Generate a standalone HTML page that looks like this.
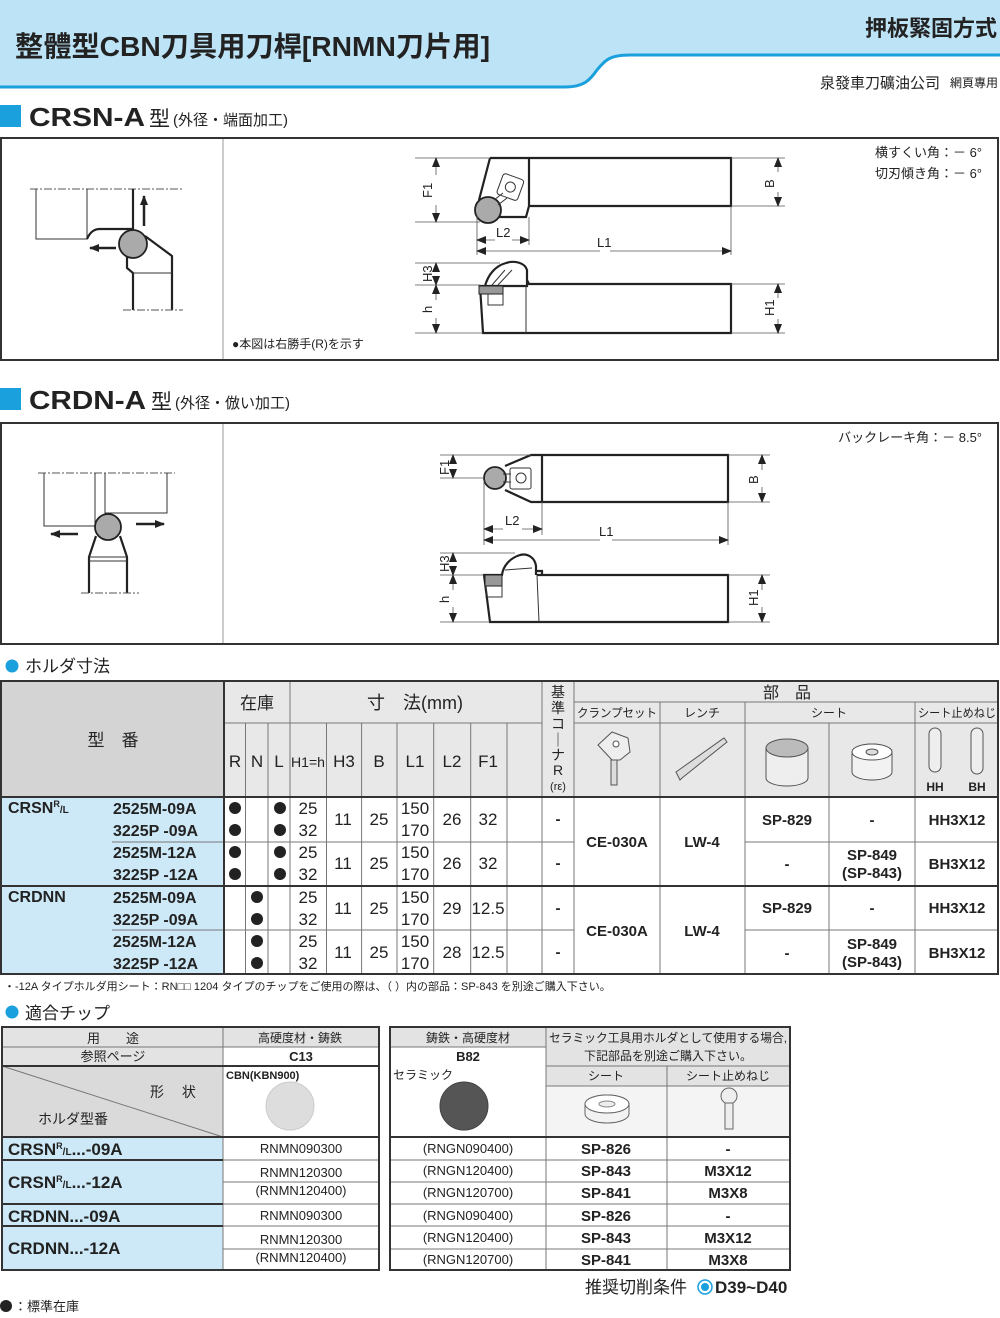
<!DOCTYPE html>
<html><head><meta charset="utf-8"><style>
html,body{margin:0;padding:0;background:#fff}
svg{display:block}
text{font-family:"Liberation Sans","Noto Sans CJK JP",sans-serif;fill:#222}
.c{text-anchor:middle}
.n{font-family:"Liberation Sans Narrow","Liberation Sans","Noto Sans CJK JP",sans-serif}
.b{font-weight:bold}
.ln{stroke:#333;stroke-width:1;fill:none}
.th{stroke:#222;stroke-width:2.2;fill:none}
.dim{stroke:#555;stroke-width:0.8;fill:none}
.g{fill:#aaa;stroke:#222;stroke-width:1.8}
</style></head><body>
<svg width="1000" height="1318" viewBox="0 0 1000 1318" xmlns="http://www.w3.org/2000/svg">
<defs>
<marker id="a" markerWidth="10" markerHeight="8" refX="9" refY="4" orient="auto" markerUnits="userSpaceOnUse"><path d="M0,0 L10,4 L0,8 z" fill="#222"/></marker>
</defs>
<!-- header -->
<path d="M0,0 H1000 V55 H630 C610,55 605,60 597,70 C590,80 584,87 565,87 H0 Z" fill="#bde3f6"/>
<path d="M0,87 H565 C584,87 590,80 597,70 C605,60 610,55 630,55 H1000" fill="none" stroke="#1aa0dc" stroke-width="3"/>
<text x="15" y="56" font-size="28" font-weight="bold" fill="#111" textLength="475" lengthAdjust="spacingAndGlyphs">整體型CBN刀具用刀桿[RNMN刀片用]</text>
<text x="997" y="36" font-size="22" font-weight="bold" text-anchor="end">押板緊固方式</text>
<text x="940" y="88" font-size="15" font-family="Noto Serif CJK SC,serif" text-anchor="end" fill="#999">泉發車刀礦油公司</text>
<text x="998" y="87" font-size="12" text-anchor="end" fill="#999">網頁專用</text>

<!-- section 1 -->
<rect x="0" y="105" width="21" height="22" fill="#1aa0dc"/>
<text x="29" y="126" font-size="26" font-weight="bold" textLength="116" lengthAdjust="spacingAndGlyphs">CRSN-A</text>
<text x="149" y="126" font-size="21">型</text>
<text x="173" y="125" font-size="15">(外径・端面加工)</text>
<rect x="1" y="138" width="997" height="222" fill="#fff" stroke="#333" stroke-width="2"/>
<line x1="223" y1="139" x2="223" y2="359" stroke="#999" stroke-width="1"/>
<text x="232" y="348" font-size="12">●本図は右勝手(R)を示す</text>
<text x="982" y="157" font-size="13" text-anchor="end">横すくい角：－ 6°</text>
<text x="982" y="178" font-size="13" text-anchor="end">切刃傾き角：－ 6°</text>

<!-- left drawing 1 -->
<line x1="30" y1="189" x2="183" y2="189" stroke="#555" stroke-dasharray="8,2,2,2"/>
<path class="ln" d="M36,189 V239 H87 V189"/>
<path class="th" d="M87,239 C90,232 94,229 100,229 H133 V189"/>
<path class="th" d="M145,236 L172,256 V310 M127,255 V268 L133,273 V310"/>
<line class="ln" x1="133" y1="273" x2="172" y2="273"/>
<line x1="123" y1="310" x2="183" y2="310" stroke="#555" stroke-dasharray="8,2,2,2"/>
<circle cx="133" cy="244" r="14" class="g"/>
<line x1="144" y1="226" x2="144" y2="196" stroke="#222" stroke-width="2.5" marker-end="url(#a)"/>
<line x1="116" y1="248" x2="90" y2="248" stroke="#222" stroke-width="2.5" marker-end="url(#a)"/>

<!-- right drawing 1 top view -->
<path class="th" d="M529,158 H731 V206 H529 M490,158 H529 V206 L526,217 H480 M490,158 L479,200"/>
<circle cx="488" cy="210" r="13" class="g"/>
<g transform="rotate(20 510 188)"><rect x="499" y="176" width="22" height="22" rx="3" class="ln" fill="#fff"/><circle cx="510" cy="187" r="5" class="ln"/></g>
<path class="ln" d="M494,200 L503,193 M498,205 L507,198"/>
<path class="dim" d="M415,158 H490 M415,222 H480 M731,158 H785 M731,206 H785 M477,215 V255 M529,217 V245 M731,206 V255"/>
<line x1="436" y1="175" x2="436" y2="158" class="dim" marker-end="url(#a)"/><line x1="436" y1="205" x2="436" y2="222" class="dim" marker-end="url(#a)"/>
<line x1="778" y1="172" x2="778" y2="158" class="dim" marker-end="url(#a)"/><line x1="778" y1="192" x2="778" y2="206" class="dim" marker-end="url(#a)"/>
<line x1="495" y1="240" x2="477" y2="240" class="dim" marker-end="url(#a)"/><line x1="512" y1="240" x2="529" y2="240" class="dim" marker-end="url(#a)"/>
<line x1="600" y1="251" x2="477" y2="251" class="dim" marker-end="url(#a)"/><line x1="610" y1="251" x2="731" y2="251" class="dim" marker-end="url(#a)"/>
<text x="0" y="0" font-size="13" transform="translate(432,198) rotate(-90)">F1</text>
<text x="0" y="0" font-size="13" transform="translate(774,188) rotate(-90)">B</text>
<text x="496" y="237" font-size="13">L2</text>
<text x="597" y="247" font-size="13">L1</text>
<!-- side view 1 -->
<path class="th" d="M529,284 H731 V333 H483 L480,286 H527 V280 L529,284 Z"/>
<path class="th" d="M485,286 C488,275 495,266 506,263 C515,260 525,263 527,270 V280"/>
<path class="ln" d="M492,285 L505,270 M498,285 L512,270 M526,286 V333 M488,293 V305 H503 V293"/>
<rect x="479" y="286" width="24" height="8" fill="#999" stroke="#222"/>
<path class="dim" d="M415,263 H500 M415,285 H480 M415,333 H483 M731,284 H785 M731,333 H785"/>
<line x1="436" y1="268" x2="436" y2="263" class="dim" marker-end="url(#a)"/><line x1="436" y1="280" x2="436" y2="285" class="dim" marker-end="url(#a)"/>
<line x1="436" y1="300" x2="436" y2="285" class="dim" marker-end="url(#a)"/><line x1="436" y1="318" x2="436" y2="333" class="dim" marker-end="url(#a)"/>
<line x1="778" y1="298" x2="778" y2="284" class="dim" marker-end="url(#a)"/><line x1="778" y1="319" x2="778" y2="333" class="dim" marker-end="url(#a)"/>
<text font-size="13" transform="translate(432,282) rotate(-90)">H3</text>
<text font-size="13" transform="translate(432,313) rotate(-90)">h</text>
<text font-size="13" transform="translate(774,316) rotate(-90)">H1</text>

<!-- section 2 -->
<rect x="0" y="388" width="21" height="22" fill="#1aa0dc"/>
<text x="29" y="409" font-size="26" font-weight="bold" textLength="117" lengthAdjust="spacingAndGlyphs">CRDN-A</text>
<text x="151" y="409" font-size="21">型</text>
<text x="175" y="408" font-size="15">(外径・倣い加工)</text>
<rect x="1" y="423" width="997" height="221" fill="#fff" stroke="#333" stroke-width="2"/>
<line x1="223" y1="424" x2="223" y2="643" stroke="#999" stroke-width="1"/>
<text x="982" y="442" font-size="13" text-anchor="end">バックレーキ角：－ 8.5°</text>

<!-- left drawing 2 -->
<line x1="38" y1="473" x2="175" y2="473" stroke="#555" stroke-dasharray="8,2,2,2"/>
<path class="ln" d="M44,473 V526 H97 M95,473 V526 M105,473 V513 H167 V473"/>
<path class="th" d="M96,536 L89,557 V593 M120,536 L127,557 V593"/>
<path class="ln" d="M89,557 H127 M89,561 H127"/>
<line x1="81" y1="593" x2="139" y2="593" stroke="#555" stroke-dasharray="8,2,2,2"/>
<circle cx="108" cy="527" r="13" class="g"/>
<line x1="78" y1="534" x2="51" y2="534" stroke="#222" stroke-width="2.5" marker-end="url(#a)"/>
<line x1="136" y1="524" x2="164" y2="524" stroke="#222" stroke-width="2.5" marker-end="url(#a)"/>

<!-- right drawing 2 top -->
<path class="th" d="M542,455 H728 V502 H542 Z M542,455 H531 L505,466 M505,490 L531,502 H542"/>
<circle cx="495" cy="478" r="11" class="g"/>
<rect x="510" y="468" width="21" height="21" rx="2" class="ln" fill="#fff"/><circle cx="521" cy="478" r="5" class="ln"/>
<path class="ln" d="M503,474 H511 M503,482 H511"/>
<path class="dim" d="M440,455 H531 M440,478 H484 M728,455 H770 M728,502 H770 M484,480 V545 M542,502 V535 M728,502 V545"/>
<line x1="453" y1="462" x2="453" y2="455" class="dim" marker-end="url(#a)"/><line x1="453" y1="471" x2="453" y2="478" class="dim" marker-end="url(#a)"/>
<line x1="762" y1="470" x2="762" y2="455" class="dim" marker-end="url(#a)"/><line x1="762" y1="487" x2="762" y2="502" class="dim" marker-end="url(#a)"/>
<line x1="503" y1="529" x2="484" y2="529" class="dim" marker-end="url(#a)"/><line x1="522" y1="529" x2="542" y2="529" class="dim" marker-end="url(#a)"/>
<line x1="600" y1="540" x2="484" y2="540" class="dim" marker-end="url(#a)"/><line x1="612" y1="540" x2="728" y2="540" class="dim" marker-end="url(#a)"/>
<text font-size="13" transform="translate(449,475) rotate(-90)">F1</text>
<text font-size="13" transform="translate(758,484) rotate(-90)">B</text>
<text x="505" y="525" font-size="13">L2</text>
<text x="599" y="536" font-size="13">L1</text>
<!-- side 2 -->
<path class="th" d="M542,575 H728 V622 H490 L484,575 H503 M537,575 H542 V571 H536"/>
<path class="th" d="M502,575 C503,566 510,558 520,555 C528,553 535,558 536,566 V575"/>
<path class="ln" d="M537,575 L539,622 M505,570 L532,568 M486,586 V597 H502 V586"/>
<rect x="485" y="575" width="17" height="11" fill="#999" stroke="#222"/>
<path class="dim" d="M440,553 H515 M440,575 H484 M440,622 H490 M728,575 H770 M728,622 H770"/>
<line x1="453" y1="560" x2="453" y2="553" class="dim" marker-end="url(#a)"/><line x1="453" y1="568" x2="453" y2="575" class="dim" marker-end="url(#a)"/>
<line x1="453" y1="590" x2="453" y2="575" class="dim" marker-end="url(#a)"/><line x1="453" y1="607" x2="453" y2="622" class="dim" marker-end="url(#a)"/>
<line x1="762" y1="590" x2="762" y2="575" class="dim" marker-end="url(#a)"/><line x1="762" y1="607" x2="762" y2="622" class="dim" marker-end="url(#a)"/>
<text font-size="13" transform="translate(449,572) rotate(-90)">H3</text>
<text font-size="13" transform="translate(449,603) rotate(-90)">h</text>
<text font-size="13" transform="translate(758,606) rotate(-90)">H1</text>

<!-- table 1 -->
<circle cx="12" cy="666" r="6.5" fill="#1aa0dc"/>
<text x="25" y="672" font-size="17">ホルダ寸法</text>
<rect x="1" y="681" width="997" height="116" fill="#e8e8e8"/>
<rect x="1" y="681" width="223" height="116" fill="#d4d4d4"/>
<rect x="1" y="797" width="223" height="177" fill="#cde9f7"/>
<g stroke="#777" stroke-width="1" fill="none">
<path d="M224,723 H542 M574,702 H998 M574,723 H998"/>
<path d="M245.5,723 V974 M268,723 V974 M326.5,723 V974 M361.6,723 V974 M397,723 V974 M433.7,723 V974 M470.7,723 V974 M507,723 V974"/>
<path d="M290,681 V974 M542,681 V974 M574,681 V974 M660,702 V974 M745,702 V974 M829,723 V974 M915,702 V974"/>
<path d="M112,842 H574 M745,842 H998 M112,930 H574 M745,930 H998"/>
</g>
<g stroke="#333" stroke-width="2" fill="none">
<rect x="1" y="681" width="997" height="293"/>
<path d="M1,797 H998 M1,886 H998 M224,681 V974"/>
</g>
<text x="113" y="746" font-size="17" class="c">型　番</text>
<text x="257" y="709" font-size="17" class="c">在庫</text>
<text x="415" y="709" font-size="18" class="c">寸　法(mm)</text>
<g font-size="14" class="c">
<text x="558" y="697">基</text><text x="558" y="713">準</text><text x="558" y="729">コ</text><text x="558" y="745">｜</text><text x="558" y="760">ナ</text><text x="558" y="775">R</text>
</g>
<text x="558" y="790" font-size="11" class="c">(rε)</text>
<text x="787" y="698" font-size="16" class="c">部　品</text>
<g font-size="12" class="c">
<text x="617" y="717" textLength="80" lengthAdjust="spacingAndGlyphs">クランプセット</text><text x="702" y="717">レンチ</text><text x="829" y="717">シート</text><text x="957" y="717" textLength="78" lengthAdjust="spacingAndGlyphs">シート止めねじ</text>
</g>
<g font-size="17" class="c">
<text x="235" y="767">R</text><text x="257" y="767">N</text><text x="279" y="767">L</text><text x="308" y="767" font-size="14" textLength="34" lengthAdjust="spacingAndGlyphs">H1=h</text><text x="344" y="767">H3</text><text x="379" y="767">B</text><text x="415" y="767">L1</text><text x="452" y="767">L2</text><text x="488" y="767">F1</text>
</g>
<text x="935" y="791" font-size="12" class="c b">HH</text><text x="977" y="791" font-size="12" class="c b">BH</text>
<!-- icons -->
<g stroke="#555" stroke-width="1" fill="#eee">
<path d="M598,745 L612,732 L628,738 L630,752 L620,760 L612,760 Z"/>
<circle cx="616" cy="744" r="3" fill="#fff"/>
<rect x="611" y="760" width="6" height="25" fill="#ddd"/>
<path d="M680,780 L676,772 L724,738 L727,742 L682,778 Z" fill="#ddd"/>
<path d="M766,748 a21,8 0 0 1 42,0 V778 a21,8 0 0 1 -42,0 Z" fill="#eee"/>
<ellipse cx="787" cy="748" rx="21" ry="9" fill="#bbb"/>
<path d="M852,752 a20,8 0 0 1 40,0 V772 a20,8 0 0 1 -40,0 Z" fill="#f2f2f2"/>
<ellipse cx="872" cy="752" rx="20" ry="8" fill="#fff"/><ellipse cx="872" cy="752" rx="6" ry="3" fill="#ddd"/>
<rect x="929" y="728" width="12" height="44" rx="6" fill="#eee"/>
<rect x="971" y="728" width="12" height="46" rx="6" fill="#eee"/>
</g>
<!-- data -->
<text x="8" y="813" font-size="16" class="b n">CRSN<tspan font-size="9" dy="-6">R</tspan><tspan font-size="10" dy="6">/L</tspan></text>
<text x="8" y="902" font-size="16" class="b n">CRDNN</text>
<g font-size="16" class="b n">
<text x="113" y="814">2525M-09A</text><text x="113" y="836">3225P -09A</text><text x="113" y="858">2525M-12A</text><text x="113" y="880">3225P -12A</text>
<text x="113" y="903">2525M-09A</text><text x="113" y="925">3225P -09A</text><text x="113" y="947">2525M-12A</text><text x="113" y="969">3225P -12A</text>
</g>
<g fill="#222">
<circle cx="235" cy="808" r="6"/><circle cx="280" cy="808" r="6"/><circle cx="235" cy="830" r="6"/><circle cx="280" cy="830" r="6"/>
<circle cx="235" cy="852" r="6"/><circle cx="280" cy="852" r="6"/><circle cx="235" cy="874" r="6"/><circle cx="280" cy="874" r="6"/>
<circle cx="257" cy="897" r="6"/><circle cx="257" cy="919" r="6"/><circle cx="257" cy="941" r="6"/><circle cx="257" cy="963" r="6"/>
</g>
<g font-size="17" class="c n">
<text x="308" y="814">25</text><text x="308" y="836">32</text><text x="308" y="858">25</text><text x="308" y="880">32</text>
<text x="308" y="903">25</text><text x="308" y="925">32</text><text x="308" y="947">25</text><text x="308" y="969">32</text>
<text x="343" y="825">11</text><text x="379" y="825">25</text><text x="415" y="814">150</text><text x="415" y="836">170</text><text x="452" y="825">26</text><text x="488" y="825">32</text>
<text x="343" y="869">11</text><text x="379" y="869">25</text><text x="415" y="858">150</text><text x="415" y="880">170</text><text x="452" y="869">26</text><text x="488" y="869">32</text>
<text x="343" y="914">11</text><text x="379" y="914">25</text><text x="415" y="903">150</text><text x="415" y="925">170</text><text x="452" y="914">29</text><text x="488" y="914">12.5</text>
<text x="343" y="958">11</text><text x="379" y="958">25</text><text x="415" y="947">150</text><text x="415" y="969">170</text><text x="452" y="958">28</text><text x="488" y="958">12.5</text>
</g>
<g font-size="15" class="c b n">
<text x="558" y="824">-</text><text x="558" y="868">-</text><text x="558" y="913">-</text><text x="558" y="957">-</text>
<text x="617" y="847">CE-030A</text><text x="702" y="847">LW-4</text><text x="617" y="936">CE-030A</text><text x="702" y="936">LW-4</text>
<text x="787" y="825">SP-829</text><text x="872" y="825">-</text><text x="957" y="825">HH3X12</text>
<text x="787" y="869">-</text><text x="872" y="860">SP-849</text><text x="872" y="878">(SP-843)</text><text x="957" y="869">BH3X12</text>
<text x="787" y="913">SP-829</text><text x="872" y="913">-</text><text x="957" y="913">HH3X12</text>
<text x="787" y="958">-</text><text x="872" y="949">SP-849</text><text x="872" y="967">(SP-843)</text><text x="957" y="958">BH3X12</text>
</g>
<text x="4" y="990" font-size="11" fill="#333">・-12A タイプホルダ用シート：RN□□ 1204 タイプのチップをご使用の際は、（ ）内の部品：SP-843 を別途ご購入下さい。</text>

<!-- table 2 -->
<circle cx="12" cy="1012" r="6.5" fill="#1aa0dc"/>
<text x="25" y="1019" font-size="17">適合チップ</text>
<rect x="2" y="1027" width="377" height="39" fill="#e3e3e3"/>
<rect x="223" y="1047" width="156" height="19" fill="#fff"/>
<rect x="2" y="1066" width="221" height="71" fill="#dadada"/>
<rect x="2" y="1137" width="221" height="133" fill="#cde9f7"/>
<g stroke="#777" fill="none">
<path d="M2,1047 H379 M223,1027 V1270"/>
<path d="M2,1066 L223,1137"/>
<path d="M223,1182 H379 M223,1160 H379 M223,1204 H379 M223,1226 H379 M223,1249 H379"/>
</g>
<g stroke="#333" stroke-width="2" fill="none">
<rect x="2" y="1027" width="377" height="243"/>
<path d="M2,1066 H379 M2,1137 H379 M2,1160 H223 M2,1204 H223 M2,1226 H223"/>
</g>
<text x="113" y="1043" font-size="13" class="c">用　　途</text>
<text x="300" y="1042" font-size="12" class="c">高硬度材・鋳鉄</text>
<text x="113" y="1061" font-size="13" class="c">参照ページ</text>
<text x="301" y="1061" font-size="13" class="c b n">C13</text>
<text x="150" y="1097" font-size="14">形　 状</text>
<text x="38" y="1124" font-size="14">ホルダ型番</text>
<text x="226" y="1079" font-size="11" class="b n">CBN(KBN900)</text>
<ellipse cx="290" cy="1106" rx="24" ry="24" fill="#ddd" stroke="#ccc"/>
<g font-size="17" class="b n">
<text x="8" y="1155">CRSN<tspan font-size="9" dy="-6">R</tspan><tspan font-size="10" dy="6">/L</tspan><tspan font-size="17" dy="0">...-09A</tspan></text>
<text x="8" y="1188">CRSN<tspan font-size="9" dy="-6">R</tspan><tspan font-size="10" dy="6">/L</tspan><tspan font-size="17">...-12A</tspan></text>
<text x="8" y="1222">CRDNN...-09A</text>
<text x="8" y="1254">CRDNN...-12A</text>
</g>
<g font-size="13" class="c n">
<text x="301" y="1153">RNMN090300</text><text x="301" y="1177">RNMN120300</text><text x="301" y="1195">(RNMN120400)</text>
<text x="301" y="1220">RNMN090300</text><text x="301" y="1244">RNMN120300</text><text x="301" y="1262">(RNMN120400)</text>
</g>
<!-- right table -->
<rect x="390" y="1027" width="400" height="59" fill="#e3e3e3"/>
<rect x="390" y="1047" width="156" height="90" fill="#fff"/>
<rect x="546" y="1086" width="244" height="51" fill="#f4f4f4"/>
<g stroke="#777" fill="none">
<path d="M390,1047 H546 M546,1066 H790 M546,1086 H790 M546,1027 V1270 M667,1066 V1270"/>
<path d="M390,1160 H790 M390,1182 H790 M390,1204 H790 M390,1226 H790 M390,1249 H790"/>
</g>
<g stroke="#333" stroke-width="2" fill="none">
<rect x="390" y="1027" width="400" height="243"/>
<path d="M390,1137 H790"/>
</g>
<text x="468" y="1042" font-size="12" class="c">鋳鉄・高硬度材</text>
<text x="468" y="1061" font-size="13" class="c b n">B82</text>
<text x="668" y="1042" font-size="12" class="c" textLength="238" lengthAdjust="spacingAndGlyphs">セラミック工具用ホルダとして使用する場合,</text>
<text x="668" y="1060" font-size="12" class="c">下記部品を別途ご購入下さい。</text>
<text x="606" y="1080" font-size="12" class="c">シート</text>
<text x="728" y="1080" font-size="12" class="c">シート止めねじ</text>
<text x="393" y="1079" font-size="12">セラミック</text>
<ellipse cx="464" cy="1106" rx="24" ry="24" fill="#555" stroke="#444"/>
<path d="M585,1104 a22,9 0 0 1 44,0 V1114 a22,9 0 0 1 -44,0 Z" fill="#f2f2f2" stroke="#666"/>
<ellipse cx="607" cy="1104" rx="22" ry="9" fill="#fff" stroke="#666"/><ellipse cx="607" cy="1104" rx="8" ry="3" fill="#eee" stroke="#888"/>
<circle cx="729" cy="1096" r="8" fill="#eee" stroke="#666"/><rect x="725" y="1103" width="8" height="26" fill="#eee" stroke="#666"/>
<g font-size="13" class="c n">
<text x="468" y="1153">(RNGN090400)</text><text x="468" y="1175">(RNGN120400)</text><text x="468" y="1197">(RNGN120700)</text>
<text x="468" y="1220">(RNGN090400)</text><text x="468" y="1242">(RNGN120400)</text><text x="468" y="1264">(RNGN120700)</text>
</g>
<g font-size="15" class="c b n">
<text x="606" y="1154">SP-826</text><text x="606" y="1176">SP-843</text><text x="606" y="1198">SP-841</text>
<text x="606" y="1221">SP-826</text><text x="606" y="1243">SP-843</text><text x="606" y="1265">SP-841</text>
<text x="728" y="1154">-</text><text x="728" y="1176">M3X12</text><text x="728" y="1198">M3X8</text>
<text x="728" y="1221">-</text><text x="728" y="1243">M3X12</text><text x="728" y="1265">M3X8</text>
</g>
<text x="585" y="1293" font-size="17">推奨切削条件</text>
<circle cx="705" cy="1287" r="7" fill="#fff" stroke="#1aa0dc" stroke-width="1.5"/><circle cx="705" cy="1287" r="4" fill="#1aa0dc"/>
<text x="715" y="1293" font-size="17" class="b n">D39~D40</text>
<circle cx="6" cy="1306" r="6" fill="#222"/>
<text x="14" y="1311" font-size="13">：標準在庫</text>
</svg>
</body></html>
